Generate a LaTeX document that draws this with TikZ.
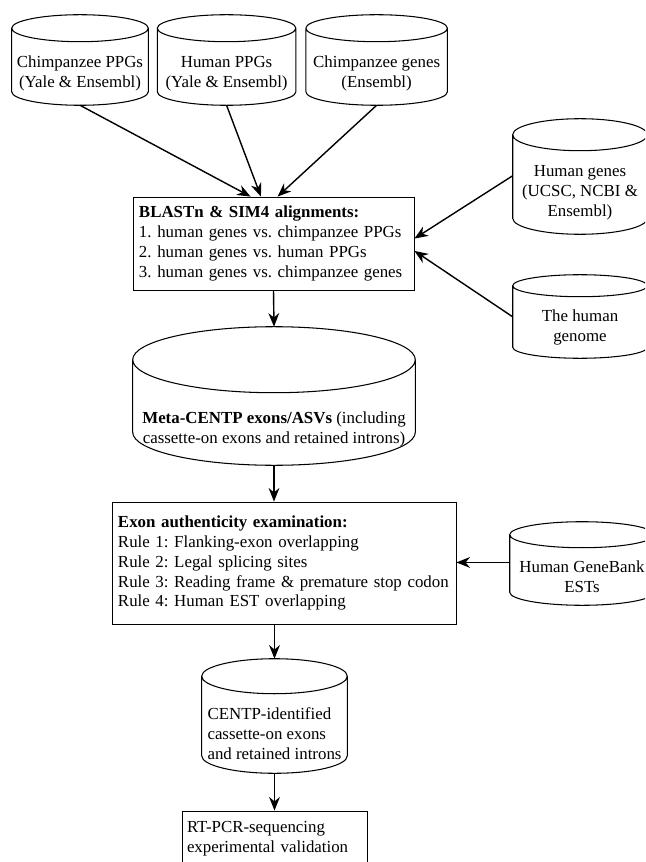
\documentclass[tikz,border=0pt]{standalone}
\usepackage{fontspec}
\setmainfont{Liberation Serif}
\usetikzlibrary{arrows.meta,positioning,calc}
\tikzset{
  dbnode/.style={rectangle,inner sep=0pt,align=center,
                 font=\fontsize{12}{14.2}\selectfont},
  dbline/.style={draw=black,line width=0.75pt},
  stepbox/.style={rectangle,draw=black,line width=0.6pt,align=left,
                  inner xsep=1.5mm,inner ysep=0pt,
                  font=\fontsize{12}{14.2}\selectfont},
  arr/.style={-{Stealth[length=3.4mm,width=2.7mm]},line width=1pt}
}
% cylinder outline round the front body of a db node, #2 = ellipse y radius
\newcommand{\dbdraw}[2]{%
  \draw[dbline] let \p1=(#1.north west), \p2=(#1.south east),
        \n1={(\x2-\x1)/2}, \n2={(\x1+\x2)/2} in
    (\n2,\y1+#2) ellipse [x radius=\n1, y radius=#2]
    (\x1,\y1+#2) -- (\x1,\y2+#2)
    arc [start angle=180, end angle=360, x radius=\n1, y radius=#2]
    -- (\x2,\y1+#2);
  \coordinate (#1-top) at ($(#1.north)+(0pt,2*#2)$);
}
\begin{document}
\frenchspacing
\begin{tikzpicture}[x=0.25mm,y=-0.25mm]
  \useasboundingbox (0,0) rectangle (645,862);
  \clip (0,0) rectangle (645,862);

  % source databases
  \node[dbnode,minimum width=34mm,minimum height=15.75mm] (chpg) at (80,73.5)
      {Chimpanzee PPGs\\(Yale \& Ensembl)};
  \node[dbnode,minimum width=34.5mm,minimum height=15.75mm,right=2.25mm of chpg] (hupg)
      {Human PPGs\\(Yale \& Ensembl)};
  \node[dbnode,minimum width=35.25mm,minimum height=15.75mm,right=2.5mm of hupg] (chge)
      {Chimpanzee genes\\(Ensembl)};

  % alignment step
  \node[stepbox,text width=67.25mm,minimum height=23.25mm] (blast) at (273.5,243.5)
      {\textbf{BLASTn \& SIM4 alignments:}\\
       1. human genes vs. chimpanzee PPGs\\
       2. human genes vs. human PPGs\\
       3. human genes vs. chimpanzee genes};

  \node[dbnode,minimum width=33.5mm,minimum height=20.75mm] (hge) at (580,192.5)
      {Human genes\\(UCSC, NCBI \&\\Ensembl)};
  \node[dbnode,minimum width=33.5mm,minimum height=15.25mm] (hgen) at (580,327.5)
      {The human\\genome};

  % candidate exons
  \node[dbnode,minimum width=70.5mm,minimum height=18mm] (meta) at (274,429)
      {\textbf{Meta-CENTP exons/ASVs} (including\\cassette-on exons and retained introns)};

  % filtering rules
  \node[stepbox,text width=83mm,minimum height=30.5mm] (exon) at (284,563)
      {\textbf{Exon authenticity examination:}\\
       Rule 1: Flanking-exon overlapping\\
       Rule 2: Legal splicing sites\\
       Rule 3: Reading frame \& premature stop codon\\
       Rule 4: Human EST overlapping};

  \node[dbnode,minimum width=36mm,minimum height=14.25mm] (est) at (582,576.5)
      {Human GeneBank\\ESTs};

  \node[dbnode,align=left,minimum width=36.25mm,minimum height=19.75mm] (centp)
      at (274.5,733.5)
      {CENTP-identified\\cassette-on exons\\and retained introns};

  \node[stepbox,inner xsep=1.25mm,text width=43.75mm,minimum height=14mm] (rtpcr)
      at (274.5,839)
      {RT-PCR-sequencing\\experimental validation};

  \foreach \nm/\ry in {chpg/3.375mm,hupg/3.375mm,chge/3.375mm,hge/4mm,
                       hgen/2.75mm,meta/8.25mm,est/3.25mm,centp/4.375mm}
    \dbdraw{\nm}{\ry};

  \draw[arr] (chpg.south) -- (blast.116);
  \draw[arr] (hupg.south) -- (blast.105);
  \draw[arr] (chge.south) -- (blast.85);
  \draw[arr] (hge.166) -- (blast.2);
  \draw[arr] (hgen.171) -- (blast.-3);
  \draw[arr] (blast.south) -- (meta-top);
  \draw[arr] (meta.south) -- (meta.south |- exon.north);
  \draw[arr] (est.169) -- (est.169 -| exon.east);
  \draw[arr] (centp-top |- exon.south) -- (centp-top);
  \draw[arr] (centp.south) -- (rtpcr.north);

\end{tikzpicture}
\end{document}
